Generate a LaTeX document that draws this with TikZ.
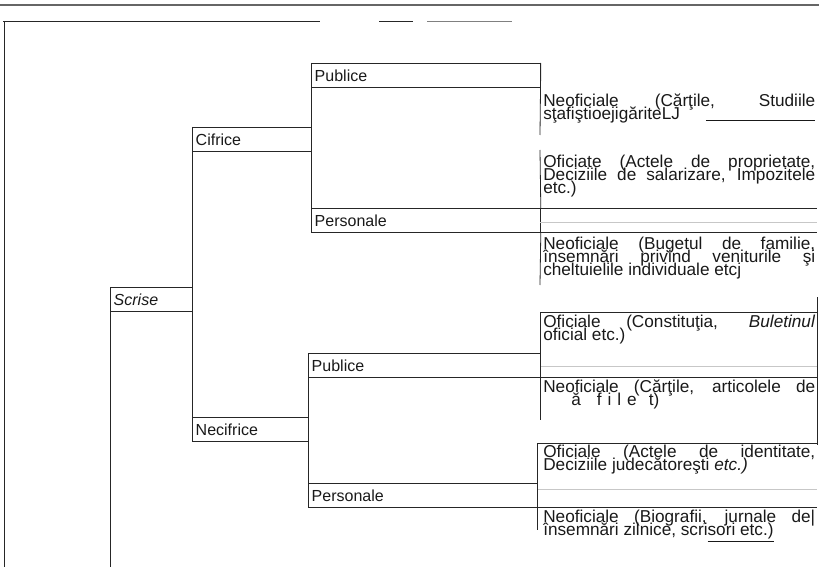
\documentclass[tikz,border=0pt]{standalone}
\usepackage{fontspec}
\setmainfont{Liberation Sans}
\usepackage{tikz}

\newcommand{\rtext}{\fontsize{12.9pt}{9.7pt}\selectfont\lineskiplimit=-20pt\lineskip=0pt\relax}
\newcommand{\ltext}{\fontsize{12pt}{13pt}\selectfont}
\newcommand{\jline}[1]{{\spaceskip=0pt\xspaceskip=0pt\makebox[204pt][s]{#1}}}
\newcommand{\rblock}[1]{\parbox[t]{204pt}{\rtext\rule{0pt}{9.5pt}#1}}

\tikzset{
  tline/.style={draw=black!85, line width=0.6pt},
  faint/.style={draw=black!22, line width=0.5pt},
  tag/.style={draw=black!85, line width=0.6pt, anchor=north west, inner xsep=2.5pt, inner ysep=0pt, minimum height=18pt, align=left, font=\ltext, text=black!90},
  rtxt/.style={anchor=north west, inner sep=0pt, text=black!90},
}

\begin{document}
\begin{tikzpicture}[x=0.75pt,y=0.75pt,yscale=-1,xscale=1]
	\useasboundingbox (0,0) rectangle (819,567);
	\coordinate (bot) at (0,567);
	\coordinate (redge) at (817,0);
	
	%Straight Lines [page rules]
	\draw[black!60, line width=1.5pt] (0,5) -- (819,5);
	\draw[tline] (3,21.5) -- (320,21.5);
	\draw[tline] (379,21.5) -- (413,21.5);
	\draw[black!50, line width=0.6pt] (427,21.5) -- (512,21.5);
	\draw[tline] (4,22) -- (4,567);
	
	% Text Node
	\node[tag, text width=56.5pt] (scrise) at (110,287) {\textit{Scrise}};
	% Text Node
	\node[tag, text width=84.25pt] (cifrice) at (192,127) {Cifrice};
	% Text Node
	\node[tag, text width=82pt] (necifrice) at (192,417) {Necifrice};
	% Text Node
	\node[tag, text width=166.75pt] (pubA) at (311,63) {Publice};
	% Text Node
	\node[tag, text width=166.75pt] (persA) at (311,208) {Personale};
	% Text Node
	\node[tag, text width=169pt] (pubB) at (308,353) {Publice};
	% Text Node
	\node[tag, text width=166.75pt] (persB) at (308,483) {Personale};
	
	%Straight Lines
	\draw[tline] (scrise.south west) -- (scrise.south west |- bot);
	\draw[tline] (cifrice.north west) -- (necifrice.south west);
	\draw[tline] (pubA.north west) -- (persA.south west);
	\draw[tline] (pubB.north west) -- (persB.south west);
	%Straight Lines [rows to the right edge]
	\draw[tline] (persA.north east) -- (persA.north east -| redge);
	\draw[tline] (persA.south east) -- (persA.south east -| redge);
	\draw[tline] (pubB.south east) -- (pubB.south east -| redge);
	\draw[tline] (persB.south east) -- (persB.south east -| redge);
	\draw[faint] (540,222) -- (817,222);
	\draw[faint] (540,366) -- (817,366);
	\draw[faint] (537,489) -- (817,489);
	%Straight Lines [right column borders]
	\draw[tline] (pubA.north east) -- (540,135);
	\draw[tline] (540,150) -- (persA.north east);
	\draw[tline] (persA.south east) -- (540,285);
	\draw[tline] (540,312) -- (540,420);
	\draw[tline] (537,443) -- (537,530);
	\draw[tline] (540,312) -- (817,312);
	\draw[tline] (537,443) -- (817,443);
	\draw[tline] (817,297) -- (817,445);
	
	% Text Node
	\node[rtxt] (neoA) at (543,94) {\rblock{\jline{Neoficiale (Cărţile, Studiile}\\
		\jline{sţafiştioejigăriteLJ\hfill\rule[-1pt]{82pt}{0.7pt}}}};
	% Text Node
	\node[rtxt] (ofA) at (543,155) {\rblock{\jline{Oficiate (Actele de proprietate,}\\
		\jline{Deciziile de salarizare, Impozitele}\\ etc.)}};
	% Text Node
	\node[rtxt] (neoB) at (543,237) {\rblock{\jline{Neoficiale (Bugetul de familie,}\\
		\jline{însemnări privind veniturile şi}\\ cheltuielile individuale etcj}};
	% Text Node
	\node[rtxt] (ofC) at (543,314.5) {\rblock{\jline{Oficiale (Constituţia, \textit{Buletinul}}\\
		oficial etc.)}};
	% Text Node
	\node[rtxt] (neoC) at (543,380) {\rblock{\jline{Neoficiale (Cărţile, articolele de}\\
		\hspace*{21pt}ă\hspace{12pt}f\hspace{4.5pt}i\hspace{4.5pt}l\hspace{4.5pt}e\hspace{9pt}t)}};
	% Text Node
	\node[rtxt] (ofD) at (543,444.5) {\rblock{\jline{Oficiale (Actele de identitate,}\\
		Deciziile judecătoreşti \textit{etc.)}}};
	% Text Node
	\node[rtxt] (neoD) at (543,510) {\rblock{\jline{Neoficiale (Biografii, jurnale de|}\\
		însemnări zilnice, scri\underline{sori etc.)}}};
	
\end{tikzpicture}
\end{document}
